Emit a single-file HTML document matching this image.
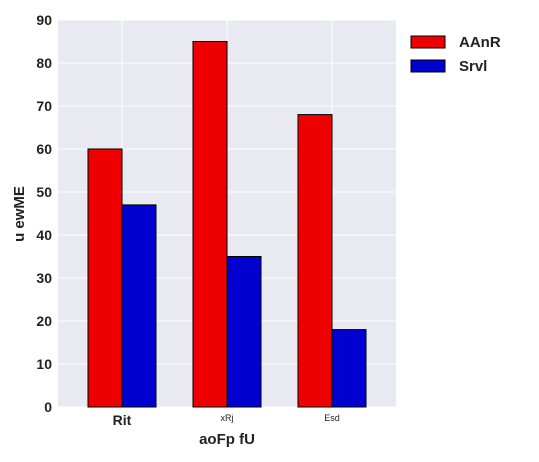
<!DOCTYPE html>
<html><head><meta charset="utf-8"><style>
body{margin:0;background:#fff;}
svg{display:block;font-family:"Liberation Sans",sans-serif;}
</style></head><body>
<svg id="chart" width="539" height="462">
<rect x="58" y="20" width="338" height="387" fill="#e9e9f1"/>
<g id="grid"></g><g id="bars"></g><g id="ticks"></g>
<text x="227" y="444" text-anchor="middle" font-size="15" font-weight="bold" fill="#222">aoFp fU</text>
<text transform="translate(24,214) rotate(-90)" text-anchor="middle" font-size="15" font-weight="bold" fill="#222">u ewME</text>
<g>
<rect x="411" y="36" width="34" height="12" fill="#ee0000" stroke="#000"/>
<text x="459" y="47" font-size="15" font-weight="bold" fill="#222">AAnR</text>
<rect x="411" y="60" width="34" height="12" fill="#0000d0" stroke="#000"/>
<text x="459" y="71" font-size="15" font-weight="bold" fill="#222">Srvl</text>
</g>
</svg>
<script>
const categories=["Rit","xRj","Esd"];
const seriesA=[60,85,68];
const seriesB=[47,35,18];
const yTicks=[0,10,20,30,40,50,60,70,80,90];
const NS="http://www.w3.org/2000/svg";
const y=v=>407-v*(387/90);
const xc=i=>122+i*105;
const grid=document.getElementById('grid'),bars=document.getElementById('bars'),ticks=document.getElementById('ticks');
function mk(tag,attrs,parent){const e=document.createElementNS(NS,tag);for(const k in attrs)e.setAttribute(k,attrs[k]);parent.appendChild(e);return e;}
yTicks.forEach(t=>{
  const l=mk('line',{x1:58,x2:396,y1:y(t),y2:y(t),stroke:'#fff','stroke-width':1},grid);
  
  
  const tx=mk('text',{x:52,y:y(t)+5,'text-anchor':'end','font-size':14,'font-weight':'bold',fill:'#222'},ticks);
  tx.textContent=t;
  
  
});
categories.forEach((c,i)=>{
  const l=mk('line',{x1:xc(i),x2:xc(i),y1:20,y2:407,stroke:'#fff','stroke-width':1},grid);
  
  
  const a=mk('rect',{x:xc(i)-34,y:y(seriesA[i]),width:34,height:407-y(seriesA[i]),fill:'#ee0000',stroke:'#000','stroke-width':1},bars);
  
  
  const b=mk('rect',{x:xc(i),y:y(seriesB[i]),width:34,height:407-y(seriesB[i]),fill:'#0000d0',stroke:'#000','stroke-width':1},bars);
  
  
  const big=i===0;
  const tx=mk('text',{x:xc(i),y:big?425:421,'text-anchor':'middle','font-size':big?14:9,'font-weight':big?'bold':'normal',fill:'#222'},ticks);
  tx.textContent=c;
  
  
});
</script>
</body></html>
